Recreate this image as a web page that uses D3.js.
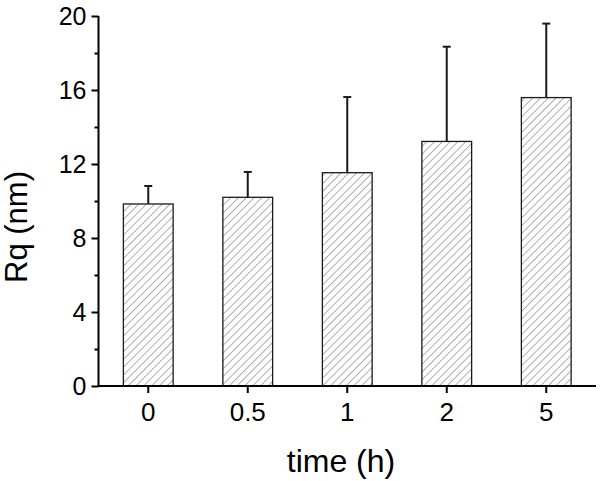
<!DOCTYPE html>
<html>
<head>
<meta charset="utf-8">
<script src="https://cdn.jsdelivr.net/npm/d3@7"></script>
<style>
  html, body { margin: 0; padding: 0; background: #fff; }
  svg { display: block; font-family: "Liberation Sans", Arial, sans-serif; }
</style>
</head>
<body>
<svg id="chart" width="602" height="481"></svg>
<script>
const categories = ["0", "0.5", "1", "2", "5"];
const values = [9.84, 10.2, 11.53, 13.22, 15.59];
const errors = [0.97, 1.37, 4.09, 5.12, 4.0];
const yTicks = [0, 4, 8, 12, 16, 20];
const yMinorTicks = [2, 6, 10, 14, 18];
const xTitle = "time (h)";
const yTitle = "Rq (nm)";

const svg = d3.select("#chart");
const mLeft = 98.5, mRight = 596, mTop = 16, mBottom = 386;

const x = d3.scaleBand().domain(categories).range([mLeft, mRight]).paddingInner(0.5).paddingOuter(0.25);
const y = d3.scaleLinear().domain([0, 20]).range([mBottom, mTop]);

// hatch pattern
const defs = svg.append("defs");
const pat = defs.append("pattern")
  .attr("id", "hatch").attr("patternUnits", "userSpaceOnUse")
  .attr("width", 5.5).attr("height", 5.5)
  .attr("patternTransform", "rotate(45)");
pat.append("rect").attr("width", 5.5).attr("height", 5.5).attr("fill", "#fff");
pat.append("line").attr("x1", 0).attr("y1", 0).attr("x2", 0).attr("y2", 5.5)
  .attr("stroke", "#6e6e6e").attr("stroke-width", 1.1);

// bars
svg.append("g").selectAll("rect").data(categories).join("rect")
  .attr("x", d => x(d))
  .attr("y", (d, i) => y(values[i]))
  .attr("width", x.bandwidth())
  .attr("height", (d, i) => y(0) - y(values[i]))
  .attr("fill", "url(#hatch)")
  .attr("stroke", "#1a1a1a")
  .attr("stroke-width", 1.3);

// error bars (upper only)
const eg = svg.append("g").attr("stroke", "#1a1a1a").attr("stroke-width", 2);
categories.forEach((c, i) => {
  const cx = x(c) + x.bandwidth() / 2;
  eg.append("line").attr("x1", cx).attr("x2", cx)
    .attr("y1", y(values[i])).attr("y2", y(values[i] + errors[i]));
  eg.append("line").attr("x1", cx - 4).attr("x2", cx + 4)
    .attr("y1", y(values[i] + errors[i])).attr("y2", y(values[i] + errors[i]));
});

// y axis
const yAxis = d3.axisLeft(y).tickValues(yTicks).tickSize(7).tickPadding(5).tickSizeOuter(0);
const yg = svg.append("g").attr("transform", `translate(${mLeft},0)`).call(yAxis);
yg.select(".domain").attr("stroke-width", 2).attr("d", `M0,${mBottom + 1}V${mTop}`);
yg.selectAll(".tick line").attr("stroke-width", 2);
yg.selectAll(".tick text").attr("font-size", 25).attr("fill", "#000")
  .attr("font-family", "'Liberation Sans', Arial, sans-serif");
const yMinor = d3.axisLeft(y).tickValues(yMinorTicks).tickSize(4).tickFormat("").tickSizeOuter(0);
const ym = svg.append("g").attr("transform", `translate(${mLeft},0)`).call(yMinor);
ym.select(".domain").remove();
ym.selectAll(".tick line").attr("stroke-width", 2);

// x axis
const xAxis = d3.axisBottom(x).tickSize(7).tickPadding(10).tickSizeOuter(0);
const xg = svg.append("g").attr("transform", `translate(0,${mBottom})`).call(xAxis);
xg.select(".domain").attr("stroke-width", 2).attr("d", `M${mLeft - 1},0H${mRight}`);
xg.selectAll(".tick line").attr("stroke-width", 2);
xg.selectAll(".tick text").attr("font-size", 26).attr("fill", "#000")
  .attr("font-family", "'Liberation Sans', Arial, sans-serif");

// titles
svg.append("text").attr("x", 341).attr("y", 472).attr("text-anchor", "middle")
  .attr("font-size", 32).text(xTitle);
svg.append("text").attr("transform", "translate(27,227) rotate(-90)")
  .attr("text-anchor", "middle").attr("font-size", 31).text(yTitle);
</script>
</body>
</html>
